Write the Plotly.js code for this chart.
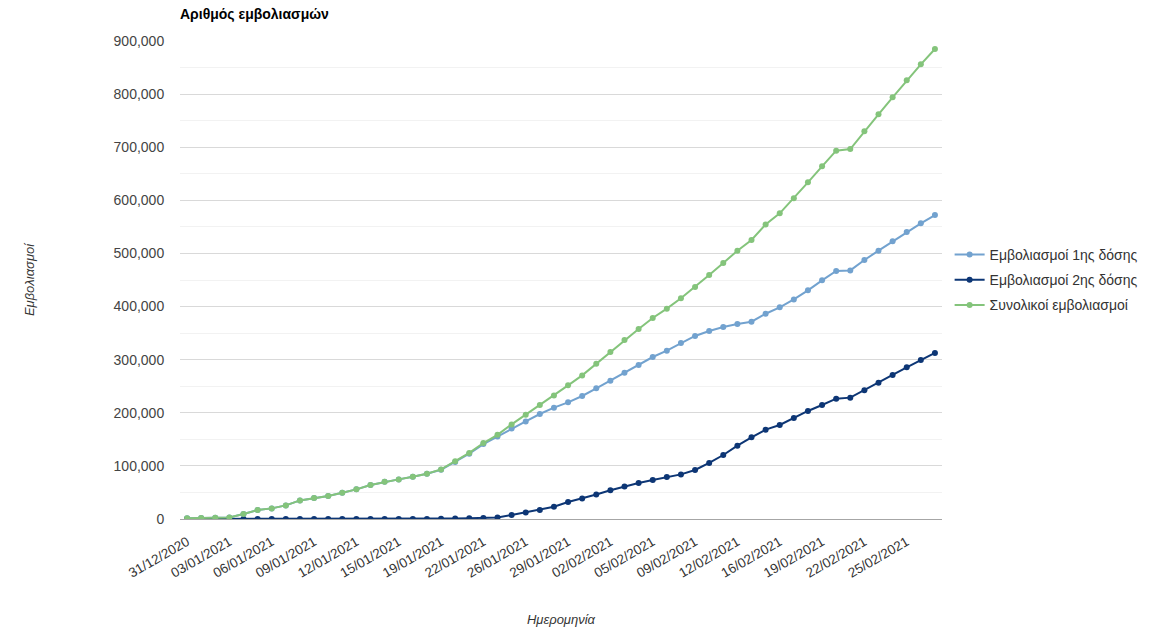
<!DOCTYPE html>
<html>
<head>
<meta charset="utf-8">
<script src="https://cdn.plot.ly/plotly-3.0.1.min.js"></script>
<style>html,body{margin:0;padding:0;background:#fff}#chart{width:1172px;height:634px}</style>
</head>
<body>
<div id="chart"></div>
<script>
const dates = ["31/12/2020","01/01/2021","02/01/2021","03/01/2021","04/01/2021","05/01/2021","06/01/2021","07/01/2021","08/01/2021","09/01/2021","10/01/2021","11/01/2021","12/01/2021","13/01/2021","14/01/2021","15/01/2021","16/01/2021","18/01/2021","19/01/2021","20/01/2021","21/01/2021","22/01/2021","23/01/2021","25/01/2021","26/01/2021","27/01/2021","28/01/2021","29/01/2021","30/01/2021","01/02/2021","02/02/2021","03/02/2021","04/02/2021","05/02/2021","06/02/2021","08/02/2021","09/02/2021","10/02/2021","11/02/2021","12/02/2021","13/02/2021","15/02/2021","16/02/2021","17/02/2021","18/02/2021","19/02/2021","20/02/2021","21/02/2021","22/02/2021","23/02/2021","24/02/2021","25/02/2021","26/02/2021","27/02/2021"];

const tickLabels = ["31/12/2020","03/01/2021","06/01/2021","09/01/2021","12/01/2021","15/01/2021","19/01/2021","22/01/2021","26/01/2021","29/01/2021","02/02/2021","05/02/2021","09/02/2021","12/02/2021","16/02/2021","19/02/2021","22/02/2021","25/02/2021"];

const firstDose = [1500,1800,2300,3000,9400,17000,20000,25600,35000,39600,43300,49500,55800,64000,70000,74600,79700,85100,92800,107500,123000,141000,155500,170600,183800,197700,209600,219600,231600,246000,260500,275500,290000,305000,317000,331500,344600,353900,361400,367100,371500,386500,398500,413500,430500,449300,466900,468100,487600,505200,522800,540300,556700,572300];

const secondDose = [0,0,0,0,0,0,0,0,0,0,0,0,0,0,0,0,0,200,600,1000,1500,2000,3000,7500,12400,17000,23000,32000,38800,46300,54000,61400,67800,73400,79000,84000,92300,105500,120500,138100,153800,168200,177000,190200,203400,214700,226600,228500,242300,256700,271200,285600,299400,312600];

const total = [1500,1800,2300,3000,9400,17000,20000,25600,35000,39600,43300,49500,55800,64000,70000,74600,79700,85300,93400,108500,124500,143000,158500,178100,196200,214700,232600,251600,270400,292300,314500,336900,357800,378400,396000,415500,436900,459400,481900,505200,525300,554700,575500,603700,633900,664000,693500,696600,729900,761900,794000,825900,856100,884900];

const names = ["Εμβολιασμοί 1ης δόσης","Εμβολιασμοί 2ης δόσης","Συνολικοί εμβολιασμοί"];
const colors = ["#72a2cf","#0d3675","#84c47b"];
const series = [firstDose, secondDose, total];

const traces = series.map((ys, k) => ({
  type: 'scatter',
  mode: 'lines+markers',
  x: dates,
  y: ys,
  name: names[k],
  legendgroup: 'g' + k,
  line: {color: colors[k], width: 2},
  marker: {color: colors[k], size: 6}
}));

const font = "Liberation Sans, Arial, sans-serif";

const layout = {
  width: 1172,
  height: 634,
  margin: {l: 180, r: 230, t: 41, b: 115},
  paper_bgcolor: '#ffffff',
  plot_bgcolor: '#ffffff',
  font: {family: font, size: 13, color: '#333'},
  title: {
    text: '<b>Αριθμός εμβολιασμών</b>',
    x: 0, xref: 'paper', xanchor: 'left',
    y: 0.978, yref: 'container', yanchor: 'middle',
    font: {family: font, size: 14, color: '#000'}
  },
  showlegend: true,
  legend: {
    x: 1.01, xanchor: 'left', y: 0.50, yanchor: 'middle',
    font: {family: font, size: 14, color: '#333'},
    tracegroupgap: 4,
    itemwidth: 30
  },
  xaxis: {
    type: 'category',
    range: [-0.5, 53.5],
    tickmode: 'array',
    tickvals: tickLabels,
    ticktext: tickLabels,
    tickangle: -30,
    tickfont: {family: font, size: 13.5, color: '#333'},
    showgrid: false,
    zeroline: false,
    showline: false,
    ticks: 'outside',
    ticklen: 9,
    tickcolor: 'rgba(0,0,0,0)',
    title: {text: '<i>Ημερομηνία</i>', font: {family: font, size: 13, color: '#333'}, standoff: 35}
  },
  yaxis: {
    range: [0, 900000],
    dtick: 100000,
    tickformat: ',d',
    tickfont: {family: font, size: 14, color: '#444'},
    gridcolor: '#d9d9d9',
    gridwidth: 1,
    minor: {dtick: 50000, showgrid: true, gridcolor: '#f2f2f2', gridwidth: 1, ticks: ''},
    zeroline: true,
    zerolinecolor: '#a6a6a6',
    zerolinewidth: 1,
    showline: false,
    ticks: 'outside',
    ticklen: 12,
    tickcolor: 'rgba(0,0,0,0)',
    automargin: false,
    title: {text: '<i>Εμβολιασμοί</i>', font: {family: font, size: 13, color: '#333'}, standoff: 76}
  }
};

Plotly.newPlot('chart', traces, layout, {displayModeBar: false, staticPlot: true});
</script>
</body>
</html>
